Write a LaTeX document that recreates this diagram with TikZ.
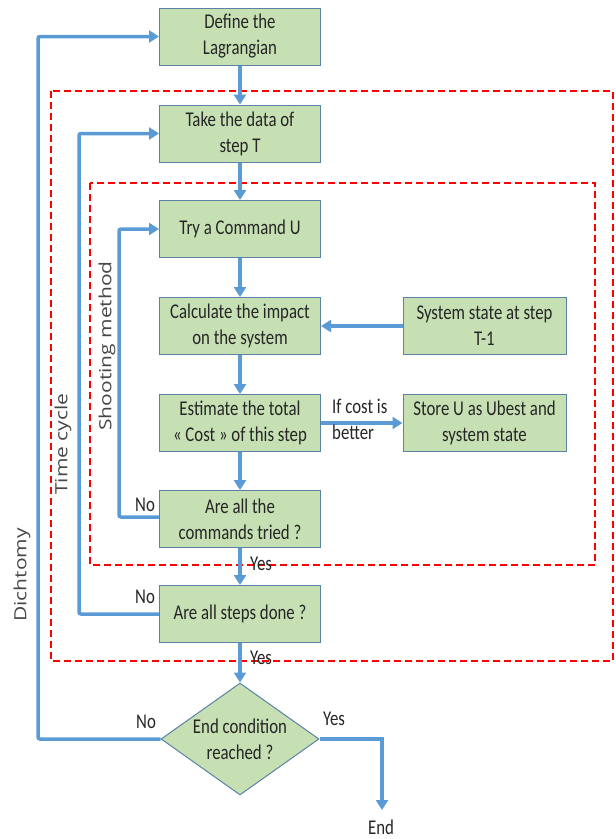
\documentclass[tikz,border=0pt]{standalone}
\usepackage{fontspec}
\setmainfont{Carlito}[FakeStretch=0.8]
\newfontfamily\labfont{Open Sans}
\usetikzlibrary{shapes.geometric,arrows.meta}
\definecolor{boxfill}{HTML}{C6E0B4}
\definecolor{boxline}{HTML}{5A82A6}
\definecolor{flow}{HTML}{5B9BD5}
\definecolor{txt}{HTML}{262626}
\tikzset{
  procbox/.style={draw=boxline, line width=1pt, fill=boxfill, minimum width=161pt, minimum height=57pt, inner sep=0pt, align=center, text=txt, font=\fontsize{21}{26}\selectfont},
  decbox/.style={draw=boxline, line width=1pt, fill=boxfill, diamond, minimum width=158pt, minimum height=112pt, inner sep=0pt},
  flowline/.style={draw=flow, line width=3.5pt, -{Triangle[length=10pt,width=12pt]}},
  loopbox/.style={draw=red, line width=1.3pt, dash pattern=on 7pt off 4pt},
  lab/.style={text=txt, inner sep=0pt, font=\fontsize{21}{26}\selectfont},
  sidelab/.style={text=txt!85, inner sep=0pt, rotate=90, font=\labfont\fontsize{21}{26}\selectfont}
}
\begin{document}
\begin{tikzpicture}[x=1pt,y=-1pt]
\useasboundingbox (0,0) rectangle (616,839);
% loop frames
\draw[loopbox] (51,91) rectangle (613,661);
\draw[loopbox] (90,183) rectangle (595,565);
% boxes
\node[procbox] (def) at (240,36.5) {Define the\\Lagrangian};
\node[procbox] (take) at (240,133.5) {Take the data of\\step T};
\node[procbox] (try) at (240,229) {Try a Command U};
\node[procbox] (calc) at (240,326) {Calculate the impact\\on the system};
\node[procbox, minimum width=163pt] (sys) at (484.5,326) {System state at step\\T-1};
\node[procbox] (est) at (240,423) {Estimate the total\\« Cost » of this step};
\node[procbox, minimum width=163pt] (store) at (484.5,423) {Store U as Ubest and\\system state};
\node[procbox] (cmds) at (240,519) {Are all the\\commands tried ?};
\node[procbox] (steps) at (240,614) {Are all steps done ?};
\node[decbox] (cond) at (240,739) {};
\node[lab, align=center] (condtxt) at (cond.center) {End condition\\reached ?};
\coordinate (endpt) at (382,810);
\node[lab] (endlab) at (381,827) {End};
% vertical flow
\draw[flowline] (def) -- (take);
\draw[flowline] (take) -- (try);
\draw[flowline] (try) -- (calc);
\draw[flowline] (calc) -- (est);
\draw[flowline] (est) -- (cmds);
\draw[flowline] (cmds) -- (steps);
\draw[flowline] (steps) -- (cond);
% side flows
\draw[flowline] (sys) -- (calc);
\draw[flowline] (est) -- (store);
\draw[flowline] (cond.east) -| (endpt);
% loops
\draw[flowline, rounded corners=2pt] (cmds.west |- 0,517) -- (119,517) -- (119,229) -- (try.west);
\draw[flowline, rounded corners=2pt] (steps.west) -- (79,614) -- (79,133.5) -- (take.west);
\draw[flowline, rounded corners=2pt] (cond.west) -- (38,739) -- (38,36.5) -- (def.west);
% labels
\node[lab] (no1) at (145,505) {No};
\node[lab] (no2) at (145,597) {No};
\node[lab] (no3) at (146,722) {No};
\node[lab] (yes1) at (261,564) {Yes};
\node[lab] (yes2) at (261,658) {Yes};
\node[lab] (yes3) at (334,719) {Yes};
\node[lab, anchor=west, align=left] (cost) at (332,419) {If cost is\\better};
\node[sidelab] (shoot) at (107,346) {\scalebox{1}[0.8]{Shooting method}};
\node[sidelab] (time) at (63,444) {\scalebox{1}[0.8]{Time cycle}};
\node[sidelab] (dich) at (22,575) {\scalebox{1}[0.8]{Dichtomy}};
\end{tikzpicture}
\end{document}
